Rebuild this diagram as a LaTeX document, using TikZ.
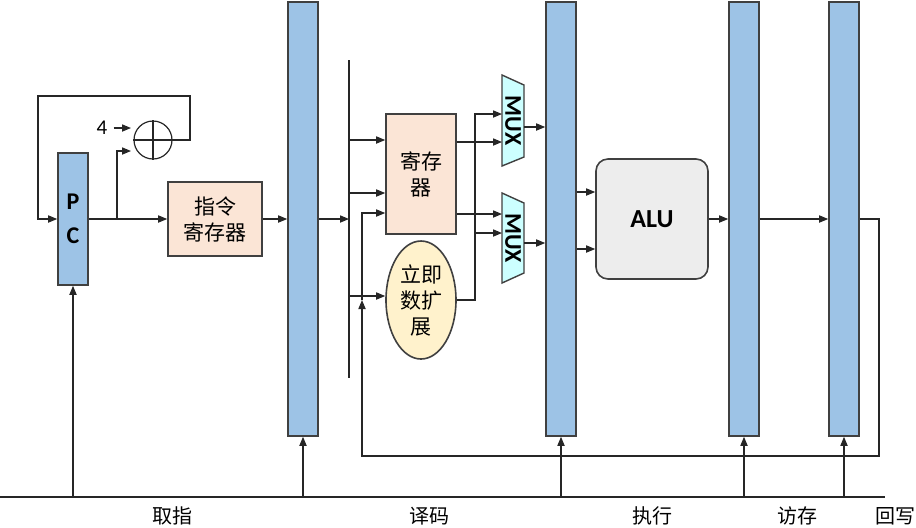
\documentclass[tikz,border=0pt]{standalone}
\usepackage{fontspec}
\newfontfamily\cjk{Noto Sans CJK SC}
\newfontfamily\calf{Carlito}
\usetikzlibrary{arrows.meta,shapes.geometric}
\definecolor{barblue}{HTML}{9DC3E6}
\definecolor{peach}{HTML}{FBE5D6}
\definecolor{lyellow}{HTML}{FFF2CC}
\definecolor{lcyan}{HTML}{CCFFFF}
\definecolor{lgrey}{HTML}{EDEDED}
\definecolor{edge}{HTML}{404040}
\begin{document}
\begin{tikzpicture}[x=0.5pt,y=-0.5pt,
  >={Triangle[length=4.5pt,width=3.6pt]},
  wire/.style={draw=black!85, line width=0.55pt},
  bar/.style={draw=edge, fill=barblue, line width=0.8pt, minimum width=15pt, minimum height=217pt, inner sep=0pt},
  regbox/.style={draw=edge, fill=peach, line width=0.8pt, inner sep=0pt, font=\cjk\fontsize{10.5}{13}\selectfont, align=center},
  muxst/.style={draw=edge, fill=lcyan, line width=0.7pt},
  lab/.style={font=\cjk\fontsize{10}{12}\selectfont, inner sep=0pt}]
\useasboundingbox (0,0) rectangle (916,527);
% pipeline bars
\node[bar, minimum height=66pt, font=\calf\bfseries\fontsize{12}{17}\selectfont, align=center] (pc) at (73,219) {P\\C};
\node[bar] (b1) at (303,219) {};
\node[bar] (b2) at (561,219) {};
\node[bar] (b3) at (744,219) {};
\node[bar] (b4) at (844,219) {};
% adder
\node[circle, draw=black!85, line width=0.6pt, minimum size=19pt, inner sep=0pt] (add) at (153,140) {};
\draw[wire] (add.north) -- (add.south) (add.west) -- (add.east);
\node[font=\calf\fontsize{10.5}{12}\selectfont, inner sep=0pt] (four) at (102,128) {4};
\draw[wire,->] (four.east) ++(6,0) -- (131,128);
% instruction register
\node[regbox, minimum width=47pt, minimum height=37pt] (ir) at (215,219) {指令\\寄存器};
% register file
\node[regbox, minimum width=35pt, minimum height=60pt] (rf) at (421,174) {寄存\\器};
% immediate extension
\node[ellipse, draw=edge, fill=lyellow, line width=0.8pt, minimum width=35pt, minimum height=59pt, inner sep=0pt, align=center, font=\cjk\fontsize{10.5}{13}\selectfont] (imm) at (421,300) {立即\\数扩\\展};
% MUXes
\draw[muxst] (502,75) -- (524,85) -- (524,157) -- (502,166) -- cycle;
\node[rotate=-90, font=\calf\bfseries\fontsize{12}{14}\selectfont, inner sep=0pt] (m1) at (513,120.5) {MUX};
\draw[muxst] (502,193) -- (524,203) -- (524,273) -- (502,283) -- cycle;
\node[rotate=-90, font=\calf\bfseries\fontsize{12}{14}\selectfont, inner sep=0pt] (m2) at (513,238) {MUX};
\coordinate (m1a) at (502,114);
\coordinate (m1b) at (502,142);
\coordinate (m1o) at (524,127);
\coordinate (m2a) at (502,214);
\coordinate (m2b) at (502,233);
\coordinate (m2o) at (524,243);
% ALU
\node[draw=edge, fill=lgrey, line width=0.8pt, rounded corners=6pt, minimum width=56pt, minimum height=60pt, inner sep=0pt, font=\calf\bfseries\fontsize{13}{14}\selectfont] (alu) at (652,219) {ALU};
% fetch stage wiring
\coordinate (tap) at (117,219);
\draw[wire,->] (pc.east) -- (ir.west);
\draw[wire,->] (tap) -- (117,151) -- (131,151);
\draw[wire,->] (add.east) -- (190,140) -- (190,96) -- (38,96) -- (38,219) -- (pc.west);
\draw[wire,->] (ir.east) -- (b1.west);
% decode bus
\coordinate (busT) at (349,60);
\coordinate (busB) at (349,378);
\draw[wire] (busT) -- (busB);
\draw[wire,->] (b1.east) -- (busT |- b1.east);
\draw[wire,->] (busT |- 0,140) -- (rf.west |- 0,140);
\draw[wire,->] (busT |- 0,193) -- (rf.west |- 0,193);
\draw[wire,->] (busT |- 0,296) -- (imm.west |- 0,296);
% register file / imm to muxes
\draw[wire,->] (rf.east |- m1b) -- (m1b);
\draw[wire,->] (rf.east |- m2a) -- (m2a);
\draw[wire,->] (imm.east) -- (475,300) -- (475,114) -- (m1a);
\draw[wire,->] (475,233) -- (m2b);
\draw[wire,->] (m1o) -- (b2.west |- m1o);
\draw[wire,->] (m2o) -- (b2.west |- m2o);
% execute
\draw[wire,->] (b2.east |- 0,192) -- (alu.west |- 0,192);
\draw[wire,->] (b2.east |- 0,249) -- (alu.west |- 0,249);
\draw[wire,->] (alu.east) -- (b3.west |- alu.east);
\draw[wire,->] (b3.east) -- (b4.west);
% write back
\draw[wire,->] (b4.east) -- (879,219) -- (879,456) -- (362,456) -- (362,300);
\draw[wire,->] (362,300) -- (362,213) -- (rf.west |- 0,213);
% clock line
\coordinate (base) at (0,497);
\draw[wire, line width=0.8pt] (base) -- (885,497);
\foreach \n in {pc,b1,b2,b3,b4} \draw[wire,->] (\n.south |- base) -- (\n.south);
% stage labels
\node[lab] (s1) at (172,516) {取指};
\node[lab] (s2) at (429,516) {译码};
\node[lab] (s3) at (652,516) {执行};
\node[lab] (s4) at (797,516) {访存};
\node[lab] (s5) at (895,516) {回写};
\end{tikzpicture}
\end{document}
